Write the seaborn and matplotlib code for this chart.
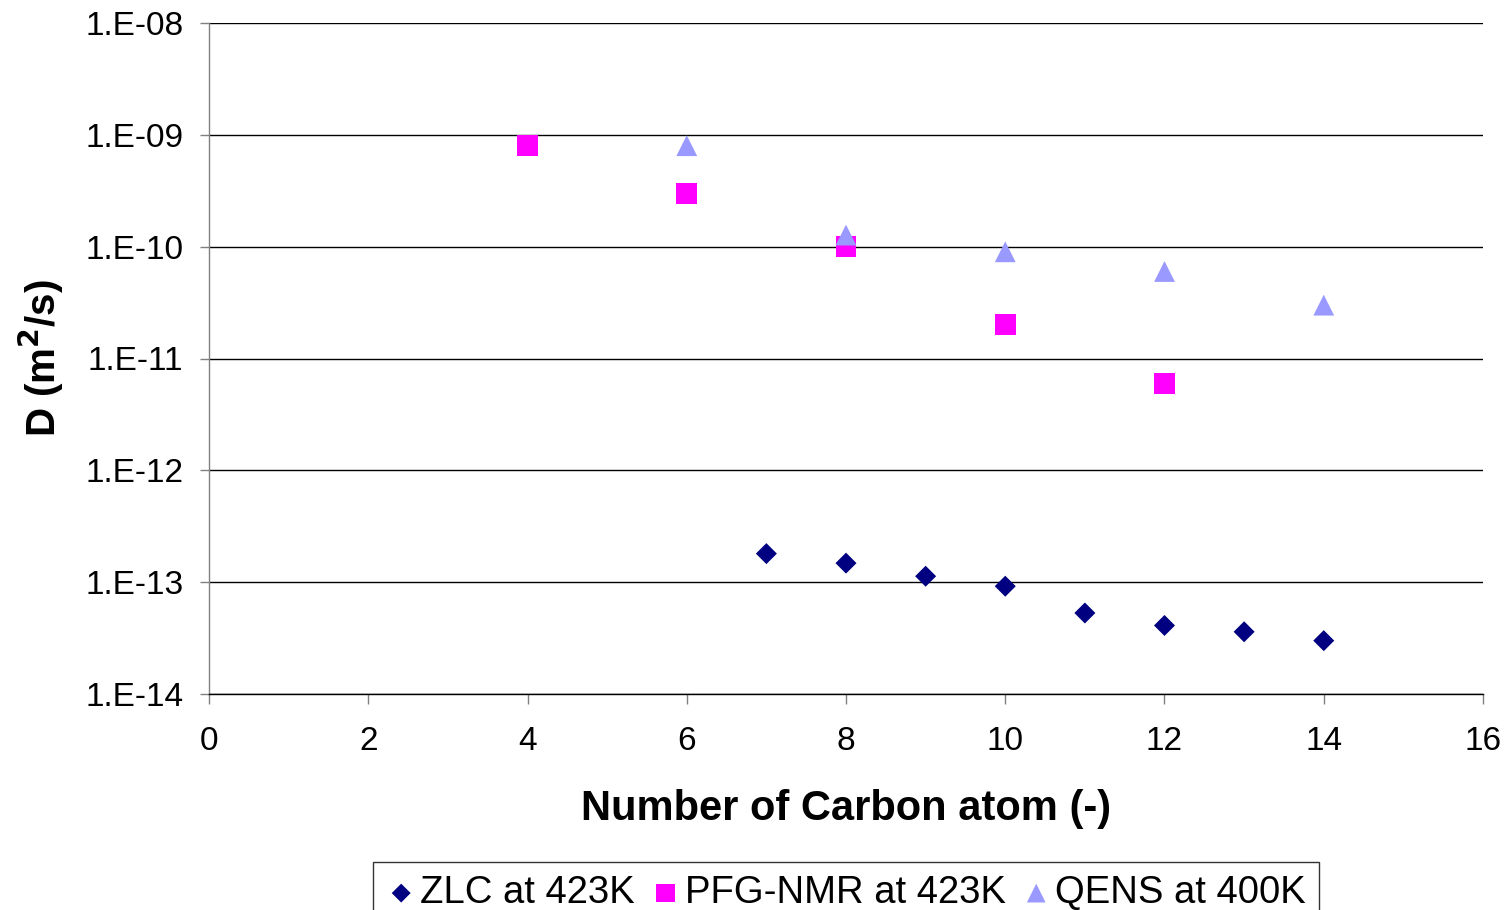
import matplotlib
matplotlib.use("Agg")
import matplotlib.pyplot as plt
import seaborn as sns
import pandas as pd
from matplotlib.ticker import FixedLocator, FixedFormatter, NullLocator

# Data
zlc_x = [7, 8, 9, 10, 11, 12, 13, 14]
zlc_y = [1.8e-13, 1.48e-13, 1.13e-13, 9.2e-14, 5.3e-14, 4.1e-14, 3.6e-14, 3.0e-14]
nmr_x = [4, 6, 8, 10, 12]
nmr_y = [8.0e-10, 3.0e-10, 1.0e-10, 2.0e-11, 6.0e-12]
qens_x = [6, 8, 10, 12, 14]
qens_y = [8.0e-10, 1.27e-10, 9.0e-11, 6.0e-11, 3.0e-11]
series_labels = ["ZLC at 423K", "PFG-NMR at 423K", "QENS at 400K"]
y_ticks = [1e-14, 1e-13, 1e-12, 1e-11, 1e-10, 1e-9, 1e-8]
y_tick_labels = ["1.E-14", "1.E-13", "1.E-12", "1.E-11", "1.E-10", "1.E-09", "1.E-08"]
x_ticks = [0, 2, 4, 6, 8, 10, 12, 14, 16]

sns.set_theme(style="white")
plt.rcParams['font.family'] = ['Liberation Sans', 'DejaVu Sans']
plt.rcParams['text.color'] = 'black'
plt.rcParams['axes.labelcolor'] = 'black'
plt.rcParams['xtick.color'] = 'black'
plt.rcParams['ytick.color'] = 'black'

fig = plt.figure(figsize=(15.07, 9.10), dpi=100)
ax = fig.add_axes([209/1507, 1 - 694/910, (1483-209)/1507, (694-23)/910])

df_zlc = pd.DataFrame({"x": zlc_x, "y": zlc_y})
df_nmr = pd.DataFrame({"x": nmr_x, "y": nmr_y})
df_qens = pd.DataFrame({"x": qens_x, "y": qens_y})

sns.scatterplot(data=df_zlc, x="x", y="y", ax=ax, marker="D", s=10.7**2,
                color="#000080", edgecolor="none", label=series_labels[0], zorder=3)
sns.scatterplot(data=df_nmr, x="x", y="y", ax=ax, marker="s", s=15**2,
                color="#FF00FF", edgecolor="none", label=series_labels[1], zorder=3)
sns.scatterplot(data=df_qens, x="x", y="y", ax=ax, marker="^", s=15**2,
                color="#9999FF", edgecolor="none", label=series_labels[2], zorder=3)

ax.set_yscale("log")
ax.set_ylim(1e-14, 1e-8)
ax.set_xlim(0, 16)
ax.yaxis.set_major_locator(FixedLocator(y_ticks))
ax.yaxis.set_major_formatter(FixedFormatter(y_tick_labels))
ax.yaxis.set_minor_locator(NullLocator())
ax.set_xticks(x_ticks)
ax.set_xticklabels([str(v) for v in x_ticks])

ax.grid(axis="y", color="#000000", linewidth=1.0)
ax.grid(axis="x", visible=False)
ax.set_axisbelow(True)
for s in ["top", "right"]:
    ax.spines[s].set_visible(False)
ax.spines["left"].set_color("#808080")
ax.spines["left"].set_linewidth(1.0)
ax.spines["bottom"].set_color("#000000")
ax.spines["bottom"].set_linewidth(1.0)

ax.tick_params(axis="y", which="major", direction="out", length=6.5, width=1,
               color="#808080", pad=12, labelsize=24, left=True, labelcolor="black")
ax.tick_params(axis="x", which="major", direction="out", length=7, width=1,
               color="#808080", pad=16, labelsize=24, bottom=True, labelcolor="black")

ax.set_xlabel("Number of Carbon atom (-)", fontsize=30, fontweight="bold", labelpad=23)
ax.set_ylabel("D (m$^\\mathbf{2}$/s)", fontsize=29, fontweight="bold", labelpad=14)

leg = ax.legend(loc="upper center", bbox_to_anchor=(0.5, -0.25), ncol=3,
                fontsize=27.5, frameon=True, fancybox=False, edgecolor="#000000",
                handletextpad=0.1, columnspacing=0.4, borderpad=0.35,
                handlelength=0.8, markerscale=0.9, borderaxespad=0)
leg.get_frame().set_linewidth(1.0)

fig.savefig("out.png", dpi=100)
